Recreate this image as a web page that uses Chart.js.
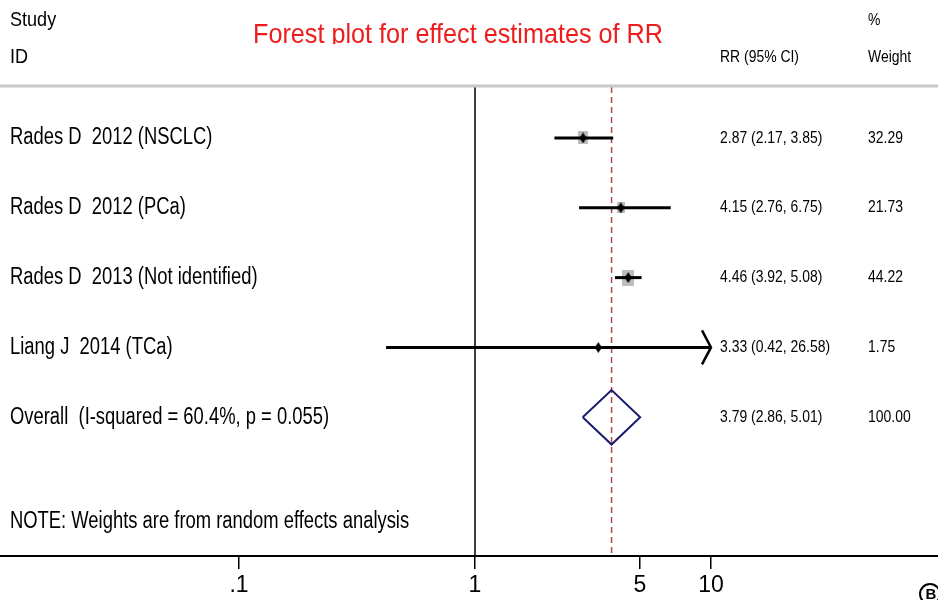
<!DOCTYPE html>
<html>
<head>
<meta charset="utf-8">
<script src="https://cdn.jsdelivr.net/npm/chart.js@4.4.1/dist/chart.umd.min.js"></script>
<style>
  html, body { margin: 0; padding: 0; background: #fff; }
  #wrap { width: 938px; height: 600px; }
</style>
</head>
<body>
<div id="wrap"><canvas id="forest"></canvas></div>
<script>
// Study data
const studies = ['Rades D  2012 (NSCLC)', 'Rades D  2012 (PCa)', 'Rades D  2013 (Not identified)', 'Liang J  2014 (TCa)'];
const rr = [2.87, 4.15, 4.46, 3.33];
const lower = [2.17, 2.76, 3.92, 0.42];
const upper = [3.85, 6.75, 5.08, 26.58];
const weights = [32.29, 21.73, 44.22, 1.75];

const overallLabel = 'Overall  (I-squared = 60.4%, p = 0.055)';
const overall = [3.79, 2.86, 5.01]; // estimate, lower, upper
const overallWeight = '100.00';

const xTicks = [0.1, 1, 5, 10];
const noteText = 'NOTE: Weights are from random effects analysis';
const titleText = 'Forest plot for effect estimates of RR';

const FONT = '"Liberation Sans", Arial, sans-serif';
const Y_MIN = 0.271, Y_MAX = 6.986;
const X_MIN = 0.00971, X_MAX = 91.6;
const capX = xTicks[xTicks.length - 1];
const overallRow = studies.length + 1;
const noteRow = studies.length + 2.5;

const fmt = v => v.toFixed(2);

// marker images: grey weight box (taller than wide, like the Stata output) and black diamond
function boxImage(w) {
  const bw = Math.max(1, Math.round(1.76 * Math.sqrt(w)));
  const bh = Math.max(1, Math.round(bw * 1.33));
  const c = document.createElement('canvas');
  c.width = bw; c.height = bh;
  const g = c.getContext('2d');
  g.fillStyle = '#bdbdbd';
  g.fillRect(0, 0, bw, bh);
  return c;
}
function diamondImage() {
  const c = document.createElement('canvas');
  c.width = 7; c.height = 11;
  const g = c.getContext('2d');
  g.fillStyle = '#000';
  g.beginPath();
  g.moveTo(3.5, 0); g.lineTo(7, 5.5); g.lineTo(3.5, 11); g.lineTo(0, 5.5);
  g.closePath(); g.fill();
  return c;
}
const dot = diamondImage();

// datasets
const ciSets = studies.map((s, i) => ({
  type: 'line',
  data: [{ x: lower[i], y: i + 1 }, { x: Math.min(upper[i], capX), y: i + 1 }],
  borderColor: '#000', borderWidth: 3, pointRadius: 0, order: 2
}));

const boxSet = {
  type: 'scatter',
  data: rr.map((v, i) => ({ x: v, y: i + 1 })),
  pointStyle: weights.map(boxImage),
  pointRadius: 6, order: 3
};

const pointSet = {
  type: 'scatter',
  data: rr.map((v, i) => ({ x: v, y: i + 1 })),
  pointStyle: dot, pointRadius: 5, order: 0
};

const dh = 0.39;
const diamondSet = {
  type: 'line',
  data: [
    { x: overall[1], y: overallRow }, { x: overall[0], y: overallRow - dh },
    { x: overall[2], y: overallRow }, { x: overall[0], y: overallRow + dh },
    { x: overall[1], y: overallRow }
  ],
  borderColor: '#1b1b6e', borderWidth: 2, pointRadius: 0, tension: 0, order: 1
};

const refSet = {
  type: 'line',
  data: [{ x: overall[0], y: Y_MIN }, { x: overall[0], y: Y_MAX }],
  borderColor: '#b5474f', borderWidth: 1.5, borderDash: [6, 4], pointRadius: 0, order: 4
};

const nullSet = {
  type: 'line',
  data: [{ x: 1, y: Y_MIN }, { x: 1, y: Y_MAX }],
  borderColor: '#000', borderWidth: 1.5, pointRadius: 0, order: 5
};

// condensed text helper
function txt(ctx, s, x, y, size, sx, align) {
  ctx.save();
  ctx.font = size + 'px ' + FONT;
  ctx.textAlign = align || 'left';
  ctx.translate(x, y);
  ctx.scale(sx, 1);
  ctx.fillText(s, 0, 0);
  ctx.restore();
}

const textPlugin = {
  id: 'forestText',
  afterDraw(chart) {
    const ctx = chart.ctx;
    const xs = chart.scales.x, ys = chart.scales.y;
    ctx.save();
    ctx.textBaseline = 'middle';
    ctx.fillStyle = '#000';

    // header
    txt(ctx, 'Study', 10, 20, 21, 0.86);
    txt(ctx, 'ID', 10, 57, 21, 0.86);
    txt(ctx, '%', 868, 20, 17, 0.82);
    txt(ctx, 'Weight', 868, 57, 17, 0.82);
    txt(ctx, 'RR (95% CI)', 720, 57, 17, 0.82);

    // separator
    ctx.strokeStyle = '#c8c8c8';
    ctx.lineWidth = 3;
    ctx.beginPath();
    ctx.moveTo(0, 86); ctx.lineTo(938, 86);
    ctx.stroke();

    // title, clipped at the bottom like the original
    ctx.save();
    ctx.beginPath();
    ctx.rect(0, 0, 938, 44);
    ctx.clip();
    ctx.fillStyle = '#ee1c1c';
    txt(ctx, titleText, 458, 35, 28, 0.9, 'center');
    ctx.restore();

    // rows
    studies.forEach((s, i) => {
      const y = ys.getPixelForValue(i + 1);
      txt(ctx, s, 10, y, 23, 0.8);
      txt(ctx, fmt(rr[i]) + ' (' + fmt(lower[i]) + ', ' + fmt(upper[i]) + ')', 720, y, 17, 0.82);
      txt(ctx, fmt(weights[i]), 868, y, 17, 0.82);
    });
    const yo = ys.getPixelForValue(overallRow);
    txt(ctx, overallLabel, 10, yo, 23, 0.8);
    txt(ctx, fmt(overall[0]) + ' (' + fmt(overall[1]) + ', ' + fmt(overall[2]) + ')', 720, yo, 17, 0.82);
    txt(ctx, overallWeight, 868, yo, 17, 0.82);

    txt(ctx, noteText, 10, ys.getPixelForValue(noteRow), 23, 0.8);

    // arrowheads for truncated intervals
    ctx.strokeStyle = '#000';
    ctx.lineWidth = 2.5;
    upper.forEach((u, i) => {
      if (u <= capX) return;
      const tx = xs.getPixelForValue(capX), ty = ys.getPixelForValue(i + 1);
      ctx.beginPath();
      ctx.moveTo(tx - 9, ty - 17); ctx.lineTo(tx, ty); ctx.lineTo(tx - 9, ty + 17);
      ctx.stroke();
    });

    // circled B in the corner
    ctx.lineWidth = 2;
    ctx.beginPath();
    ctx.arc(930, 594, 10, 0, Math.PI * 2);
    ctx.stroke();
    ctx.font = 'bold 15px ' + FONT;
    ctx.textAlign = 'center';
    ctx.fillText('B', 931, 595);
    ctx.restore();
  }
};

new Chart(document.getElementById('forest'), {
  data: { datasets: [...ciSets, boxSet, pointSet, diamondSet, refSet, nullSet] },
  options: {
    responsive: true,
    maintainAspectRatio: false,
    animation: false,
    layout: { autoPadding: false, padding: { top: 87, bottom: -2, left: 0, right: 0 } },
    plugins: { legend: { display: false }, tooltip: { enabled: false } },
    scales: {
      x: {
        type: 'logarithmic',
        min: X_MIN, max: X_MAX,
        bounds: 'data',
        afterBuildTicks: scale => { scale.ticks = xTicks.map(v => ({ value: v })); },
        ticks: {
          autoSkip: false, maxRotation: 0, padding: 5,
          color: '#000',
          font: { family: FONT, size: 23, lineHeight: 1 },
          callback: v => (v < 1 ? String(v).replace(/^0/, '') : String(v))
        },
        grid: { drawOnChartArea: false, drawTicks: true, tickLength: 13, color: '#000', lineWidth: 1.5 },
        border: { color: '#000', width: 2 }
      },
      y: { type: 'linear', reverse: true, min: Y_MIN, max: Y_MAX, display: false }
    }
  },
  plugins: [textPlugin]
});
</script>
</body>
</html>
